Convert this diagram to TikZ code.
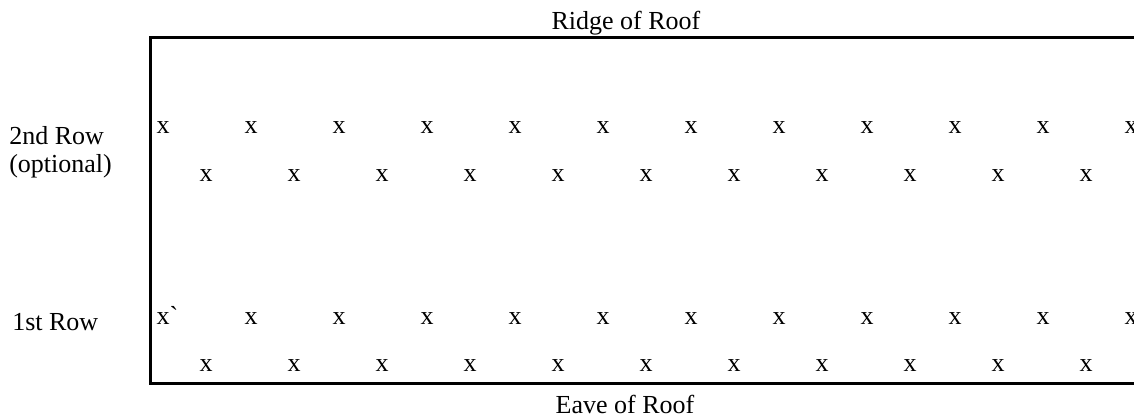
\documentclass[tikz,border=0pt]{standalone}
\usepackage{fontspec}
\setmainfont{Liberation Serif}
\begin{document}
\begin{tikzpicture}[x=0.75pt,y=-0.75pt,
  lbl/.style={font=\fontsize{19.5}{20.5}\selectfont, inner sep=0pt, anchor=base},
  mk/.style={font=\fontsize{19.5}{20.5}\selectfont, inner sep=0pt, anchor=base},
  edge/.style={line width=2.25pt, line cap=rect}]
\useasboundingbox (0,0) rectangle (1134,419);
\clip (0,0) rectangle (1134,419);
% roof outline
\coordinate (tr) at (1140,37.5);
\coordinate (tl) at (150,37.5);
\coordinate (bl) at (150,383.5);
\coordinate (br) at (1140,383.5);
\draw[edge] (tr) -- (tl) -- (bl) -- (br);
% labels
\node[lbl] (ridge) at (626,29) {Ridge of Roof};
\node[lbl] (eave) at (625,413) {Eave of Roof};
\node[lbl, anchor=base west, align=left] (row2) at (9,144) {2nd Row};
\node[lbl, anchor=base west] (row2b) at (9,172) {(optional)};
\node[lbl, anchor=base west] (row1) at (12,330) {1st Row};
% marks, 2nd row
\foreach \i in {0,...,11} {
  \node[mk] (a\i) at (163+88*\i,133) {x};
}
\foreach \i in {0,...,10} {
  \node[mk] (b\i) at (206+88*\i,181.5) {x};
}
% marks, 1st row
\node[mk] (c0) at (163,324) {x\rlap{\textasciigrave}};
\foreach \i in {1,...,11} {
  \node[mk] (c\i) at (163+88*\i,324) {x};
}
\foreach \i in {0,...,10} {
  \node[mk] (d\i) at (206+88*\i,371.5) {x};
}
\end{tikzpicture}
\end{document}
